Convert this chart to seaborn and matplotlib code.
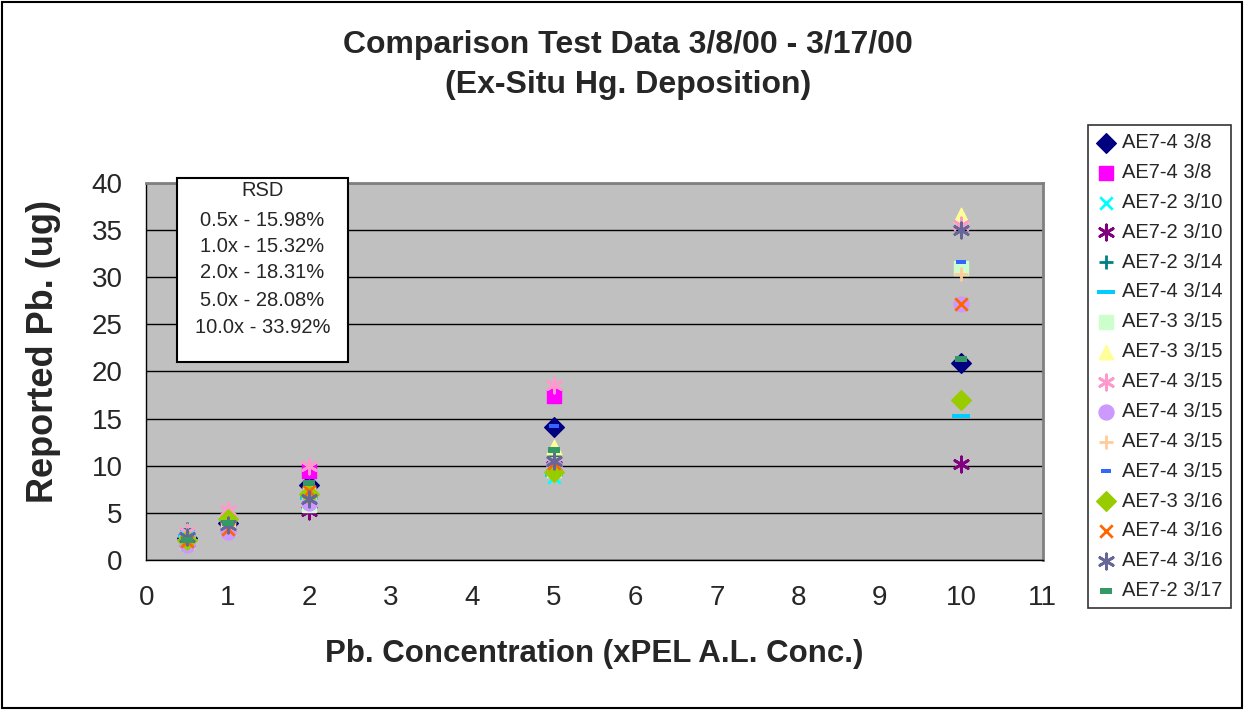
import numpy as np
import pandas as pd
import matplotlib
matplotlib.use("Agg")
import matplotlib.pyplot as plt
from matplotlib.path import Path
from matplotlib.patches import Rectangle
import seaborn as sns

# ---- data ----
x_conc = [0.5, 1, 2, 5, 10]

series_labels = [
    "AE7-4 3/8", "AE7-4 3/8", "AE7-2 3/10", "AE7-2 3/10", "AE7-2 3/14",
    "AE7-4 3/14", "AE7-3 3/15", "AE7-3 3/15", "AE7-4 3/15", "AE7-4 3/15",
    "AE7-4 3/15", "AE7-4 3/15", "AE7-3 3/16", "AE7-4 3/16", "AE7-4 3/16",
    "AE7-2 3/17",
]

s01 = [2.3, 3.9, 8.0, 14.1, 20.9]
s02 = [2.2, 3.6, 9.4, 17.4, np.nan]
s03 = [2.5, 4.3, 7.0, 8.8, np.nan]
s04 = [1.9, 3.5, 5.2, 10.0, 10.2]
s05 = [3.3, 5.0, 7.2, 11.0, np.nan]
s06 = [2.5, 4.2, 6.6, 9.0, 15.3]
s07 = [1.9, 3.4, 5.8, 9.5, 31.0]
s08 = [2.1, 3.8, 7.7, 12.0, 36.6]
s09 = [3.0, 5.3, 10.0, 18.6, 35.5]
s10 = [1.6, 3.0, 6.0, 10.0, 27.2]
s11 = [2.0, 3.7, 7.6, 10.8, 30.3]
s12 = [2.4, 3.9, 6.8, 14.2, 31.6]
s13 = [2.1, 4.4, 7.0, 9.3, 17.0]
s14 = [2.0, 3.3, 7.3, 10.3, 27.2]
s15 = [2.4, 3.7, 6.5, 10.5, 35.0]
s16 = [2.1, 3.9, 8.2, 11.7, 21.3]

all_series = [s01, s02, s03, s04, s05, s06, s07, s08,
              s09, s10, s11, s12, s13, s14, s15, s16]

rsd_lines = ["RSD", "0.5x - 15.98%", "1.0x - 15.32%", "2.0x - 18.31%",
             "5.0x - 28.08%", "10.0x - 33.92%"]

# ---- marker shapes ----
def dash(w, h):
    return Path([(-w, -h), (w, -h), (w, h), (-w, h), (-w, -h)],
                [Path.MOVETO, Path.LINETO, Path.LINETO, Path.LINETO, Path.CLOSEPOLY])

star = (6, 2, 0)
styles = [
    ("D", "#000080", 100, 1),
    ("s", "#FF00FF", 110, 1),
    ("x", "#00FFFF", 80, 2),
    (star, "#800080", 120, 2),
    ("+", "#008080", 100, 2),
    (dash(1.0, 0.28), "#00CCFF", 150, 0),
    ("s", "#CCFFCC", 110, 1),
    ("^", "#FFFF99", 110, 1),
    (star, "#FF99CC", 120, 2),
    ("o", "#CC99FF", 115, 1),
    ("+", "#FFCC99", 100, 2),
    (dash(1.0, 0.5), "#3366FF", 50, 0),
    ("D", "#99CC00", 100, 1),
    ("x", "#FF6600", 80, 2),
    (star, "#666699", 120, 2),
    (dash(1.0, 0.45), "#339966", 70, 0),
]

sns.set_style("white")
plt.rcParams["font.family"] = ["Liberation Sans", "DejaVu Sans"]

fig = plt.figure(figsize=(12.44, 7.10), dpi=100)
ax = fig.add_axes([0.1177, 0.2113, 0.7206, 0.5310])
ax.set_facecolor("#C0C0C0")

for i, (vals, lab) in enumerate(zip(all_series, series_labels)):
    m, c, s, lw = styles[i]
    df = pd.DataFrame({"x": x_conc, "y": vals}).dropna()
    sns.scatterplot(data=df, x="x", y="y", ax=ax, marker=m, color=c, s=s,
                    linewidth=lw, edgecolor=c, label=lab, zorder=3 + i * 0.01)

ax.set_xlim(0, 11)
ax.set_ylim(0, 40)
ax.set_xticks(range(0, 12))
ax.set_yticks(range(0, 41, 5))
ax.yaxis.grid(True, color="black", linewidth=1)
ax.set_axisbelow(True)
ax.tick_params(axis="both", labelsize=20, direction="out", length=7,
               width=1, color="black")
ax.tick_params(axis="y", pad=10)
ax.tick_params(axis="x", pad=11)
for side in ["left", "bottom"]:
    ax.spines[side].set_color("black")
    ax.spines[side].set_linewidth(1)
for side in ["top", "right"]:
    ax.spines[side].set_color("#808080")
    ax.spines[side].set_linewidth(2)

ax.set_xlabel("Pb. Concentration (xPEL A.L. Conc.)", fontsize=22.5,
              fontweight="bold", labelpad=20)
ax.set_ylabel("Reported Pb. (ug)", fontsize=26, fontweight="bold")
ax.yaxis.set_label_coords(-0.095, 0.554)

fig.text(0.505, 0.937, "Comparison Test Data 3/8/00 - 3/17/00",
         ha="center", va="center", fontsize=23, fontweight="bold")
fig.text(0.505, 0.880, "(Ex-Situ Hg. Deposition)",
         ha="center", va="center", fontsize=23, fontweight="bold")

# RSD box
bx0, bx1, by0, by1 = 177 / 1244, 348 / 1244, 1 - 362 / 710, 1 - 178 / 710
fig.patches.append(Rectangle((bx0, by0), bx1 - bx0, by1 - by0,
                             transform=fig.transFigure, facecolor="white",
                             edgecolor="black", linewidth=1.5, zorder=5))
ys = [190, 220, 246, 273, 300, 327]
for t, yy in zip(rsd_lines, ys):
    fig.text((bx0 + bx1) / 2, 1 - yy / 710, t, ha="center", va="center",
             fontsize=14.5, zorder=6)

leg = ax.legend(loc="upper left", bbox_to_anchor=(1088 / 1244, 1 - 125 / 710),
                bbox_transform=fig.transFigure, frameon=True, fancybox=False,
                edgecolor="black", fontsize=14.5, labelspacing=0.54,
                handlelength=1.0, handletextpad=0.3, borderpad=0.4,
                borderaxespad=0, markerscale=1.0)
leg.get_frame().set_linewidth(1.2)

fig.patches.append(Rectangle((0.002, 0.003), 0.996, 0.994,
                             transform=fig.transFigure, fill=False,
                             edgecolor="black", linewidth=1.5))

fig.savefig("out.png", dpi=100)
